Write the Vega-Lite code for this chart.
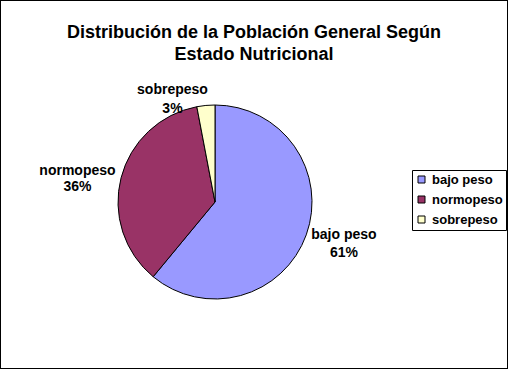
{
  "$schema": "https://vega.github.io/schema/vega-lite/v6.json",
  "width": 508,
  "height": 369,
  "padding": 0,
  "autosize": {"type": "none"},
  "background": "white",
  "view": {"stroke": "black", "strokeWidth": 2, "fill": "white"},
  "title": {
    "text": ["Distribución de la Población General Según", "Estado Nutricional"],
    "font": "Liberation Sans",
    "fontSize": 18,
    "fontWeight": "bold",
    "color": "black",
    "anchor": "middle",
    "offset": -64,
    "lineHeight": 22
  },
  "config": {
    "legend": {
      "orient": "none",
      "legendX": 412,
      "legendY": 170,
      "strokeColor": "black",
      "strokeWidth": 1,
      "padding": 3,
      "symbolType": "square",
      "symbolSize": 49,
      "symbolStrokeColor": "black",
      "symbolStrokeWidth": 1,
      "labelFont": "Liberation Sans",
      "labelFontSize": 13,
      "labelFontWeight": "bold",
      "labelColor": "black",
      "labelOffset": 4,
      "rowPadding": 6,
      "title": null
    }
  },
  "data": {
    "values": [
      {"estado": "bajo peso", "porcentaje": 61},
      {"estado": "normopeso", "porcentaje": 36},
      {"estado": "sobrepeso", "porcentaje": 3}
    ]
  },
  "transform": [
    {"stack": "porcentaje", "groupby": [], "sort": [{"field": "estado", "order": "ascending"}], "as": ["t0", "t1"]},
    {"calculate": "(datum.t0 + datum.t1) / 2", "as": "mid"},
    {"calculate": "datum.estado + '\\n' + datum.porcentaje + '%'", "as": "etiqueta"}
  ],
  "layer": [
    {
      "mark": {"type": "arc", "outerRadius": 97, "x": 215, "y": 202, "stroke": "black", "strokeWidth": 1},
      "encoding": {
        "theta": {"field": "t0", "type": "quantitative", "scale": {"domain": [0, 100]}, "stack": null},
        "theta2": {"field": "t1"},
        "color": {
          "field": "estado",
          "type": "nominal",
          "scale": {"domain": ["bajo peso", "normopeso", "sobrepeso"], "range": ["#9999FF", "#993366", "#FFFFCC"]},
          "legend": {"title": null}
        }
      }
    },
    {
      "transform": [{"filter": "datum.estado == 'bajo peso'"}],
      "mark": {"type": "text", "x": 215, "y": 202, "radius": 137, "dy": -13, "lineBreak": "\n", "lineHeight": 18, "font": "Liberation Sans", "fontSize": 14, "fontWeight": "bold", "color": "black", "baseline": "middle", "align": "center"},
      "encoding": {
        "theta": {"field": "mid", "type": "quantitative", "scale": {"domain": [0, 100]}, "stack": null},
        "text": {"field": "etiqueta"}
      }
    },
    {
      "transform": [{"filter": "datum.estado == 'normopeso'"}],
      "mark": {"type": "text", "x": 215, "y": 202, "radius": 142, "dy": 4, "lineBreak": "\n", "lineHeight": 16, "font": "Liberation Sans", "fontSize": 14, "fontWeight": "bold", "color": "black", "baseline": "middle", "align": "center"},
      "encoding": {
        "theta": {"field": "mid", "type": "quantitative", "scale": {"domain": [0, 100]}, "stack": null},
        "text": {"field": "etiqueta"}
      }
    },
    {
      "transform": [{"filter": "datum.estado == 'sobrepeso'"}],
      "mark": {"type": "text", "x": 215, "y": 202, "radius": 112, "dx": -32, "dy": 0, "lineBreak": "\n", "lineHeight": 19, "font": "Liberation Sans", "fontSize": 14, "fontWeight": "bold", "color": "black", "baseline": "middle", "align": "center"},
      "encoding": {
        "theta": {"field": "mid", "type": "quantitative", "scale": {"domain": [0, 100]}, "stack": null},
        "text": {"field": "etiqueta"}
      }
    }
  ]
}
